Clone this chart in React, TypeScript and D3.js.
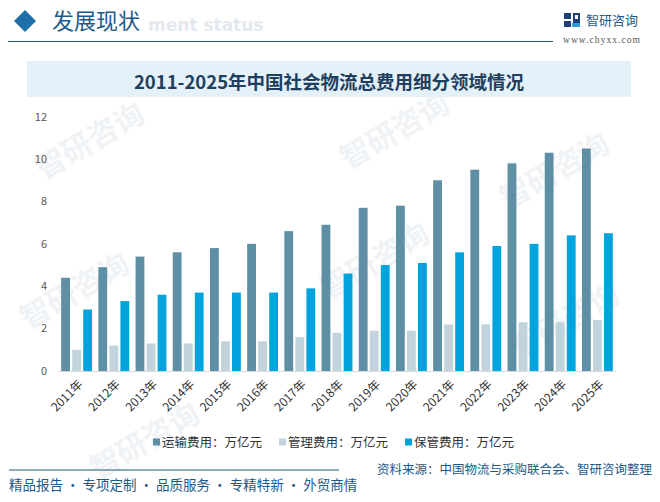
import { useEffect, useRef } from 'react';
import * as d3 from 'd3';

const years = ['2011年', '2012年', '2013年', '2014年', '2015年', '2016年', '2017年', '2018年', '2019年', '2020年', '2021年', '2022年', '2023年', '2024年', '2025年'];
const transport = [4.4, 4.9, 5.4, 5.6, 5.8, 6.0, 6.6, 6.9, 7.7, 7.8, 9.0, 9.5, 9.8, 10.3, 10.5];
const management = [1.0, 1.2, 1.3, 1.3, 1.4, 1.4, 1.6, 1.8, 1.9, 1.9, 2.2, 2.2, 2.3, 2.3, 2.4];
const storage = [2.9, 3.3, 3.6, 3.7, 3.7, 3.7, 3.9, 4.6, 5.0, 5.1, 5.6, 5.9, 6.0, 6.4, 6.5];
const seriesNames = ['运输费用：万亿元', '管理费用：万亿元', '保管费用：万亿元'];
const yTicks = [0, 2, 4, 6, 8, 10, 12];

const colors = ['#5f8fa5', '#c1d3dc', '#00a3dc'];
const FONT = '"Noto Sans CJK SC", "Noto Sans", sans-serif';

export default function App() {
    const svgRef = useRef<SVGSVGElement>(null);
    const width = 660;
    const height = 502;

    useEffect(() => {
        if (!svgRef.current) return;
        document.body.style.margin = '0';
        const svg = d3.select(svgRef.current);
        svg.selectAll('*').remove();

        svg.append('rect').attr('width', width).attr('height', height).attr('fill', '#ffffff');

        // watermarks
        const wm = svg.append('g').attr('fill', '#f0f3f6').style('font-family', FONT).style('font-weight', 'bold');
        [[95, 150], [80, 300], [400, 140], [380, 270], [150, 450], [560, 180], [570, 330]].forEach(([x, y]) => {
            wm.append('text')
                .attr('transform', `translate(${x},${y}) rotate(-30)`)
                .attr('font-size', 30)
                .attr('text-anchor', 'middle')
                .text('智研咨询');
        });

        // header
        svg.append('path')
            .attr('d', 'M25,10 L36,21 L25,32 L14,21 Z')
            .attr('fill', '#1f6fa8');
        svg.append('text')
            .attr('x', 148).attr('y', 31)
            .attr('font-size', 17).attr('font-weight', 'bold')
            .attr('fill', '#e3e9ee')
            .style('font-family', '"DejaVu Sans", sans-serif')
            .text('ment status');
        svg.append('text')
            .attr('x', 52).attr('y', 29)
            .attr('font-size', 22)
            .attr('fill', '#1d5a8a')
            .style('font-family', FONT)
            .text('发展现状');
        svg.append('line')
            .attr('x1', 8).attr('x2', 553).attr('y1', 41.5).attr('y2', 41.5)
            .attr('stroke', '#1c5b7a').attr('stroke-width', 1.2);

        // logo
        const logo = svg.append('g');
        logo.append('rect').attr('x', 564).attr('y', 13).attr('width', 7).attr('height', 6).attr('fill', '#1d3f7a');
        logo.append('rect').attr('x', 564).attr('y', 21).attr('width', 7).attr('height', 6).attr('fill', '#1d3f7a');
        logo.append('rect').attr('x', 573).attr('y', 13).attr('width', 7).attr('height', 14).attr('fill', '#1d3f7a');
        logo.append('rect').attr('x', 575).attr('y', 15).attr('width', 3).attr('height', 4).attr('fill', '#ffffff');
        logo.append('rect').attr('x', 572).attr('y', 23).attr('width', 8).attr('height', 4).attr('fill', '#2a9bd8');
        logo.append('text')
            .attr('x', 586).attr('y', 25)
            .attr('font-size', 13)
            .attr('fill', '#1d5a8a')
            .style('font-family', FONT)
            .text('智研咨询');
        logo.append('text')
            .attr('x', 563).attr('y', 43)
            .attr('font-size', 9.5)
            .attr('fill', '#555555')
            .attr('textLength', 77)
            .style('font-family', '"Liberation Serif", serif')
            .text('www.chyxx.com');

        // title box
        svg.append('rect')
            .attr('x', 27).attr('y', 61).attr('width', 604).attr('height', 36)
            .attr('fill', '#e5f1f9');
        svg.append('text')
            .attr('x', 329).attr('y', 88.5)
            .attr('text-anchor', 'middle')
            .attr('font-size', 18.5).attr('font-weight', 'bold')
            .attr('fill', '#1f3f5f')
            .style('font-family', FONT)
            .text('2011-2025年中国社会物流总费用细分领域情况');

        // scales
        const x = d3.scaleBand<string>()
            .domain(years)
            .range([58, 616])
            .paddingInner(0.17)
            .paddingOuter(0.085);
        const xSub = d3.scaleBand<number>()
            .domain([0, 1, 2])
            .range([0, x.bandwidth()])
            .paddingInner(0.2);
        const y = d3.scaleLinear().domain([0, 12]).range([371, 116.7]);

        const series = [transport, management, storage];

        // bars
        const groups = svg.append('g')
            .selectAll('g')
            .data(years)
            .enter()
            .append('g')
            .attr('transform', d => `translate(${x(d)},0)`);
        groups.selectAll('rect')
            .data((_, i) => series.map((s, k) => ({ k, v: s[i] })))
            .enter()
            .append('rect')
            .attr('x', d => xSub(d.k) || 0)
            .attr('y', d => y(d.v))
            .attr('width', xSub.bandwidth())
            .attr('height', d => y(0) - y(d.v))
            .attr('fill', d => colors[d.k]);

        // x axis
        svg.append('line')
            .attr('x1', 58).attr('x2', 616).attr('y1', y(0) + 0.5).attr('y2', y(0) + 0.5)
            .attr('stroke', '#d9d9d9').attr('stroke-width', 1);
        svg.append('g')
            .selectAll('text')
            .data(years)
            .enter()
            .append('text')
            .attr('transform', d => `translate(${(x(d) || 0) + x.bandwidth() / 2 + 4},${y(0) + 11}) rotate(-45)`)
            .attr('text-anchor', 'end')
            .attr('dy', '0.35em')
            .attr('font-size', 12)
            .attr('fill', '#333333')
            .style('font-family', FONT)
            .text(d => d);

        // y axis labels
        svg.append('g')
            .selectAll('text')
            .data(yTicks)
            .enter()
            .append('text')
            .attr('x', 47)
            .attr('y', d => y(d))
            .attr('dy', '0.35em')
            .attr('text-anchor', 'end')
            .attr('font-size', 11)
            .attr('fill', '#595959')
            .style('font-family', FONT)
            .text(d => d);

        // legend
        const legendX = [153, 279, 405];
        const legend = svg.append('g')
            .selectAll('g')
            .data(seriesNames)
            .enter()
            .append('g')
            .attr('transform', (_, i) => `translate(${legendX[i]},442)`);
        legend.append('rect')
            .attr('x', 0).attr('y', -3.5).attr('width', 7).attr('height', 7)
            .attr('fill', (_, i) => colors[i]);
        legend.append('text')
            .attr('x', 9).attr('y', 0)
            .attr('dy', '0.36em')
            .attr('font-size', 12.5)
            .attr('fill', '#333333')
            .style('font-family', FONT)
            .text(d => d);

        // footer
        svg.append('line')
            .attr('x1', 9).attr('x2', 339).attr('y1', 470).attr('y2', 470)
            .attr('stroke', '#1c5b7a').attr('stroke-width', 1.2);
        svg.append('text')
            .attr('x', 9).attr('y', 490)
            .attr('font-size', 13.5)
            .attr('fill', '#1d5a8a')
            .style('font-family', FONT)
            .text('精品报告 · 专项定制 · 品质服务 · 专精特新 · 外贸商情');
        svg.append('text')
            .attr('x', 652).attr('y', 474)
            .attr('text-anchor', 'end')
            .attr('font-size', 12.5)
            .attr('fill', '#1d5a8a')
            .style('font-family', FONT)
            .text('资料来源：中国物流与采购联合会、智研咨询整理');
    }, []);

    return (
        <div style={{ position: 'absolute', left: 0, top: 0 }}>
            <svg ref={svgRef} width={width} height={height} style={{ display: 'block' }} />
        </div>
    );
}
